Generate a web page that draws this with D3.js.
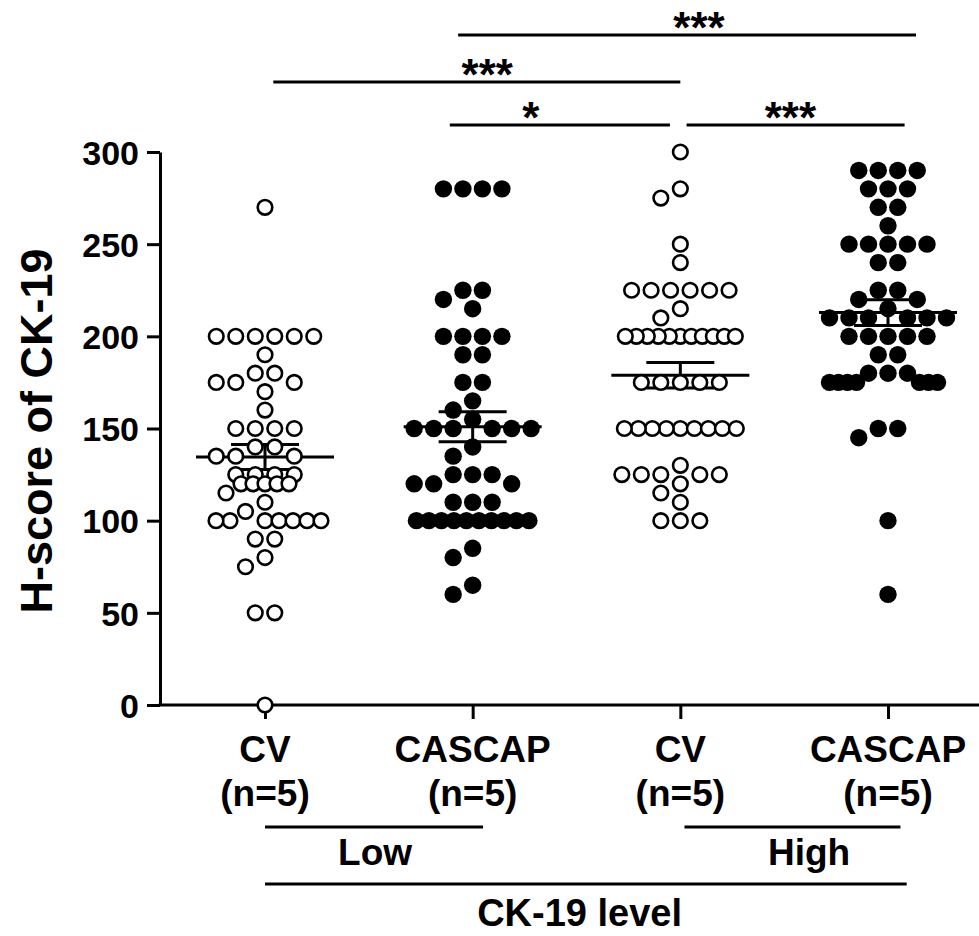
<!DOCTYPE html>
<html><head><meta charset="utf-8">
<script src="https://cdn.jsdelivr.net/npm/d3@7"></script>
<style>
html,body{margin:0;padding:0;background:#fff;}
svg{display:block;}
text{font-family:Arial,"Liberation Sans",sans-serif;font-weight:bold;fill:#000;}
</style></head><body>
<svg id="chart" width="979" height="936"></svg>
<script>
// ---------- data ----------
const groupLabels = ["CV", "CASCAP", "CV", "CASCAP"];
const groupSizes  = ["(n=5)", "(n=5)", "(n=5)", "(n=5)"];
const groupFilled = [false, true, false, true];
const yTicks = [0, 50, 100, 150, 200, 250, 300];
const yTitle = "H-score of CK-19";
const xTitle = "CK-19 level";

const cvLow = [270,
  200,200,200,200,200,200, 190, 180,180, 175,175,175, 170, 160,
  150,150,150,150, 140,140, 135,135,135, 125,125,125,125,
  120,120,120,120,120, 115, 110, 105,
  100,100,100,100,100,100,100, 90,90, 80, 75, 50,50, 0];
const cascapLow = [280,280,280,280,
  225,225, 220, 215, 200,200,200,200, 190,190, 175,175, 165, 160, 155,
  150,150,150,150,150,150, 140, 135, 125,125,125, 120,120,120,
  110,110,110, 100,100,100,100,100,100,100,100,100,100, 85, 80, 65, 60];
const cvHigh = [300, 280, 275, 250, 240,
  225,225,225,225,225,225, 215, 210,
  200,200,200,200,200,200,200,200,200,200,200,
  175,175,175,175,175, 150,150,150,150,150,150,150,150,150,
  130, 125,125,125,125,125, 120, 115, 110, 100,100,100];
const cascapHigh = [290,290,290,290, 280,280,280, 270,270, 260,
  250,250,250,250,250, 240,240, 225,225, 220,220, 215,
  210,210,210,210,210,210, 200,200,200,200,200, 190,190,
  180,180,180, 175,175,175,175,175,175,175, 150,150, 145, 100, 60];
const series = [cvLow, cascapLow, cvHigh, cascapHigh];

// significance brackets (ends and label position in category-index units)
const bracketFrom  = [0.93, 0.04, 0.89, 2.03];
const bracketTo    = [3.135, 2.0, 1.95, 3.08];
const bracketLabel = ["***", "***", "*", "***"];
const bracketLabelAt = [2.09, 1.07, 1.28, 2.53];
const bracketTier  = [0, 1, 2, 2];

// level grouping lines
const levelLabels = ["Low", "High"];
const levelFrom = [0.0, 2.02];
const levelTo   = [1.05, 3.06];
const levelLabelAt = [0.53, 2.62];
const overallFrom = 0.0, overallTo = 3.09, overallLabelAt = 1.515;

// ---------- layout ----------
const plotLeft = 160, plotRight = 979, plotTop = 152, plotBottom = 705;
const svg = d3.select("#chart");

const y = d3.scaleLinear().domain([0, 300]).range([plotBottom, plotTop]);
const xIdx = d3.scaleLinear().domain([0, 3]).range([265, 888]);
const xPt = d3.scalePoint().domain(d3.range(4)).range([xIdx(0), xIdx(3)]);

// Y axis
const yAxis = svg.append("g").attr("transform", `translate(${plotLeft},0)`)
  .call(d3.axisLeft(y).tickValues(yTicks).tickSize(13).tickSizeOuter(0).tickPadding(8));
yAxis.selectAll("path,line").attr("stroke", "#000").attr("stroke-width", 3);
yAxis.selectAll("text").style("font-size", "34px").attr("dy", "0.36em");

// X axis
const xAxis = svg.append("g").attr("transform", `translate(0,${plotBottom})`)
  .call(d3.axisBottom(xPt).tickSize(14).tickSizeOuter(0).tickFormat(""));
xAxis.select(".domain").attr("d", `M${plotLeft - 1.5},0H${plotRight}`);
xAxis.selectAll("path,line").attr("stroke", "#000").attr("stroke-width", 3);
xAxis.selectAll(".tick text").remove();
const lbl = svg.append("g").style("font-size", "37px").attr("text-anchor", "middle");
groupLabels.forEach((g, i) => {
  lbl.append("text").attr("x", xPt(i)).attr("y", 762).text(g);
  lbl.append("text").attr("x", xPt(i)).attr("y", 806).text(groupSizes[i]);
});

// level lines
const lv = svg.append("g");
levelLabels.forEach((l, i) => {
  lv.append("line").attr("x1", xIdx(levelFrom[i])).attr("x2", xIdx(levelTo[i]))
    .attr("y1", 827).attr("y2", 827).attr("stroke", "#000").attr("stroke-width", 3);
  lv.append("text").attr("x", xIdx(levelLabelAt[i])).attr("y", 865)
    .attr("text-anchor", "middle").style("font-size", "37px").text(l);
});
lv.append("line").attr("x1", xIdx(overallFrom)).attr("x2", xIdx(overallTo))
  .attr("y1", 884).attr("y2", 884).attr("stroke", "#000").attr("stroke-width", 3);
lv.append("text").attr("x", xIdx(overallLabelAt)).attr("y", 926)
  .attr("text-anchor", "middle").style("font-size", "38px").text(xTitle);

// Y title
svg.append("text").attr("transform", "translate(52,431) rotate(-90)")
  .attr("text-anchor", "middle").style("font-size", "45px").text(yTitle);

// brackets
const tierY = [35, 82, 125];
const br = svg.append("g");
bracketLabel.forEach((l, i) => {
  const ty = tierY[bracketTier[i]];
  br.append("line").attr("x1", xIdx(bracketFrom[i])).attr("x2", xIdx(bracketTo[i]))
    .attr("y1", ty).attr("y2", ty).attr("stroke", "#000").attr("stroke-width", 3);
  br.append("text").attr("x", xIdx(bracketLabelAt[i])).attr("y", ty + 8)
    .attr("text-anchor", "middle").style("font-size", "44px").text(l);
});

// swarm layout (GraphPad-like rows, spread on a column grid, bounded width)
function swarm(values) {
  const steps = [19.5, 17, 15.5, 14, 12.5, 11, 10, 9];
  const half = 60, dmin = 15;
  const counts = d3.rollup(values, v => v.length, d => d);
  const rowVals = Array.from(counts.keys()).sort((a, b) => b - a);
  const placed = [];
  function tryRow(n, step, py) {
    if ((n - 1) * step > 2 * half + 0.01) return null;
    const ideals = d3.range(n).map(i => (i - (n - 1) / 2) * step)
      .sort((a, b) => Math.abs(a) - Math.abs(b) || a - b);
    const row = [];
    for (const ideal of ideals) {
      let best = null;
      for (let k = 0; k < 40 && best === null; k++) {
        const h = k * step / 2;
        const cands = k === 0 ? [ideal] :
          (ideal < 0 ? [ideal - h, ideal + h] : ideal > 0 ? [ideal + h, ideal - h] : [-h, h]);
        for (const c of cands) {
          if (Math.abs(c) > half + 0.01) continue;
          if (row.some(p => Math.abs(p - c) < step * 0.95)) continue;
          if (placed.some(p => Math.hypot(p.dx - c, p.py - py) < dmin)) continue;
          best = c; break;
        }
      }
      if (best === null) return null;
      row.push(best);
    }
    return row;
  }
  for (const v of rowVals) {
    const n = counts.get(v);
    const py = y(v);
    let row = null;
    for (const st of steps) { row = tryRow(n, st, py); if (row) break; }
    if (!row) {
      const st = Math.min(12, 2 * half / Math.max(1, n - 1));
      row = d3.range(n).map(i => (i - (n - 1) / 2) * st);
    }
    row.forEach(dx => placed.push({ v, dx, py }));
  }
  return placed;
}

// mean +/- SEM
const eb = svg.append("g").attr("stroke", "#000").attr("stroke-width", 3);
series.forEach((vals, i) => {
  const m = d3.mean(vals), sem = d3.deviation(vals) / Math.sqrt(vals.length);
  const cx = xPt(i);
  eb.append("line").attr("x1", cx - 69).attr("x2", cx + 69).attr("y1", y(m)).attr("y2", y(m));
  eb.append("line").attr("x1", cx - 34).attr("x2", cx + 34).attr("y1", y(m + sem)).attr("y2", y(m + sem));
  eb.append("line").attr("x1", cx - 34).attr("x2", cx + 34).attr("y1", y(m - sem)).attr("y2", y(m - sem));
  eb.append("line").attr("x1", cx).attr("x2", cx).attr("y1", y(m + sem)).attr("y2", y(m - sem));
});

// points
series.forEach((vals, i) => {
  const pts = swarm(vals);
  const g = svg.append("g");
  g.selectAll("circle").data(pts).join("circle")
    .attr("cx", d => xPt(i) + d.dx).attr("cy", d => y(d.v))
    .attr("r", groupFilled[i] ? 8.7 : 7.3)
    .attr("fill", groupFilled[i] ? "#000" : "#fff")
    .attr("stroke", "#000").attr("stroke-width", groupFilled[i] ? 0 : 2.6);
});
</script>
</body></html>
